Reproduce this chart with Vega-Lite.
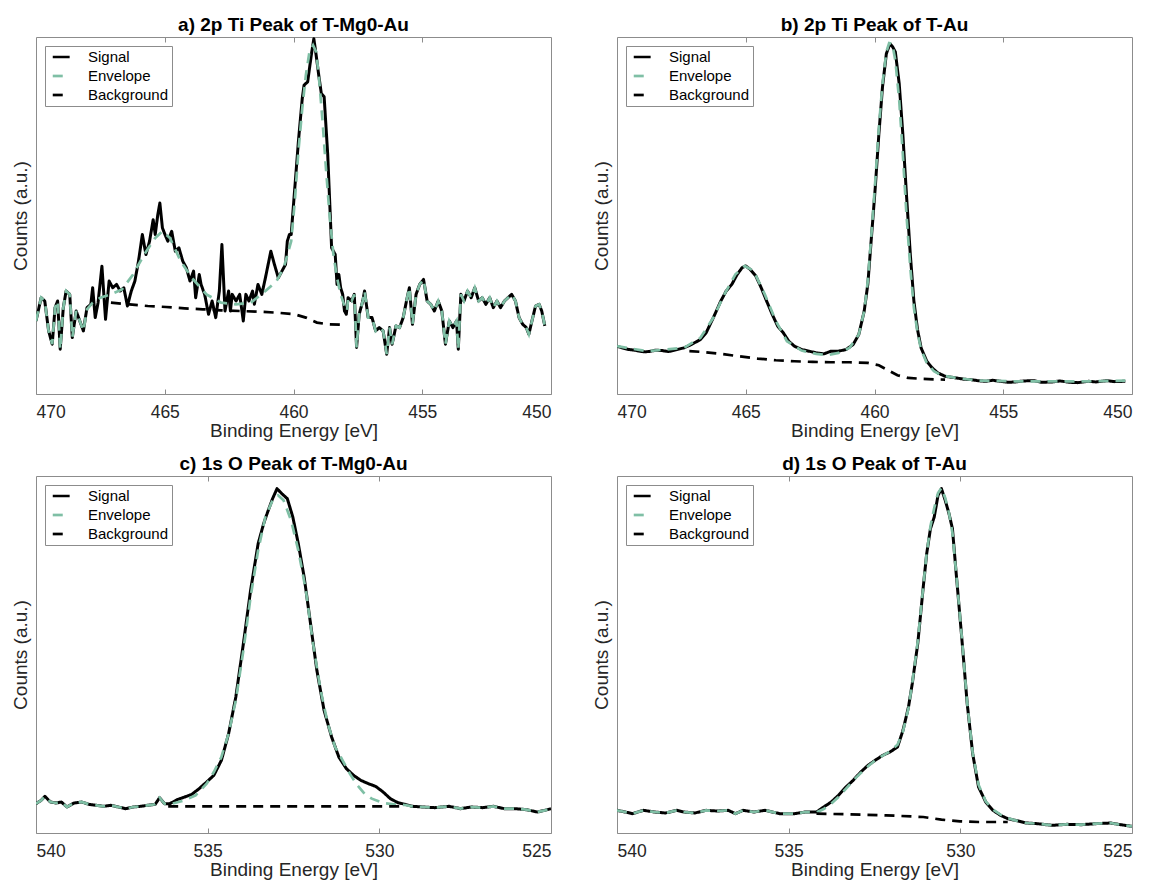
{
"$schema": "https://vega.github.io/schema/vega-lite/v6.json",
"padding": {"left": 10, "top": 15, "right": 3, "bottom": 3},
"background": "white",
"config": {
  "font": "Liberation Sans",
  "view": {"stroke": "#8c8c8c", "strokeWidth": 1},
  "axis": {"grid": false, "domain": false, "labelFont": "Liberation Sans", "labelFontSize": 17.5, "labelColor": "#262626", "titleFont": "Liberation Sans", "titleFontSize": 19, "titleFontWeight": "normal", "titleColor": "#262626", "tickColor": "#8c8c8c", "tickWidth": 1},
  "title": {"font": "Liberation Sans", "fontSize": 19, "fontWeight": "bold", "color": "#000000", "offset": 2}
},
"datasets": {
"a": [
{"s":"S","x":470,"y":220},{"s":"S","x":469.8,"y":290},{"s":"S","x":469.66,"y":280},{"s":"S","x":469.51,"y":190},{"s":"S","x":469.37,"y":150},{"s":"S","x":469.26,"y":260},{"s":"S","x":469.16,"y":280},{"s":"S","x":469.06,"y":135},{"s":"S","x":468.94,"y":260},{"s":"S","x":468.83,"y":310},{"s":"S","x":468.69,"y":300},{"s":"S","x":468.59,"y":170},{"s":"S","x":468.44,"y":250},{"s":"S","x":468.3,"y":220},{"s":"S","x":468.16,"y":190},{"s":"S","x":468.02,"y":260},{"s":"S","x":467.87,"y":270},{"s":"S","x":467.8,"y":320},{"s":"S","x":467.7,"y":230},{"s":"S","x":467.59,"y":275},{"s":"S","x":467.44,"y":385},{"s":"S","x":467.3,"y":225},{"s":"S","x":467.16,"y":340},{"s":"S","x":467.02,"y":320},{"s":"S","x":466.87,"y":330},{"s":"S","x":466.73,"y":310},{"s":"S","x":466.59,"y":320},{"s":"S","x":466.45,"y":265},{"s":"S","x":466.3,"y":310},{"s":"S","x":466.16,"y":340},{"s":"S","x":466.02,"y":400},{"s":"S","x":465.87,"y":480},{"s":"S","x":465.73,"y":420},{"s":"S","x":465.59,"y":460},{"s":"S","x":465.45,"y":525},{"s":"S","x":465.37,"y":480},{"s":"S","x":465.27,"y":540},{"s":"S","x":465.19,"y":575},{"s":"S","x":465.09,"y":500},{"s":"S","x":464.99,"y":480},{"s":"S","x":464.88,"y":460},{"s":"S","x":464.73,"y":490},{"s":"S","x":464.59,"y":430},{"s":"S","x":464.45,"y":440},{"s":"S","x":464.3,"y":400},{"s":"S","x":464.16,"y":380},{"s":"S","x":464.02,"y":340},{"s":"S","x":463.88,"y":370},{"s":"S","x":463.8,"y":290},{"s":"S","x":463.66,"y":360},{"s":"S","x":463.59,"y":330},{"s":"S","x":463.45,"y":300},{"s":"S","x":463.3,"y":240},{"s":"S","x":463.16,"y":280},{"s":"S","x":463.02,"y":230},{"s":"S","x":462.88,"y":310},{"s":"S","x":462.78,"y":450},{"s":"S","x":462.66,"y":250},{"s":"S","x":462.52,"y":310},{"s":"S","x":462.45,"y":250},{"s":"S","x":462.38,"y":300},{"s":"S","x":462.23,"y":280},{"s":"S","x":462.09,"y":300},{"s":"S","x":461.95,"y":220},{"s":"S","x":461.85,"y":300},{"s":"S","x":461.73,"y":280},{"s":"S","x":461.59,"y":310},{"s":"S","x":461.52,"y":270},{"s":"S","x":461.38,"y":330},{"s":"S","x":461.23,"y":300},{"s":"S","x":461.09,"y":350},{"s":"S","x":460.88,"y":430},{"s":"S","x":460.74,"y":390},{"s":"S","x":460.59,"y":350},{"s":"S","x":460.45,"y":370},{"s":"S","x":460.31,"y":390},{"s":"S","x":460.24,"y":460},{"s":"S","x":460.16,"y":480},{"s":"S","x":460.09,"y":480},{"s":"S","x":459.95,"y":620},{"s":"S","x":459.81,"y":760},{"s":"S","x":459.66,"y":890},{"s":"S","x":459.59,"y":930},{"s":"S","x":459.45,"y":940},{"s":"S","x":459.31,"y":1020},{"s":"S","x":459.21,"y":1070},{"s":"S","x":459.12,"y":1020},{"s":"S","x":459.02,"y":960},{"s":"S","x":458.92,"y":905},{"s":"S","x":458.81,"y":895},{"s":"S","x":458.67,"y":720},{"s":"S","x":458.52,"y":440},{"s":"S","x":458.38,"y":420},{"s":"S","x":458.31,"y":330},{"s":"S","x":458.24,"y":360},{"s":"S","x":458.17,"y":320},{"s":"S","x":458.09,"y":300},{"s":"S","x":458.02,"y":250},{"s":"S","x":457.95,"y":240},{"s":"S","x":457.88,"y":290},{"s":"S","x":457.74,"y":280},{"s":"S","x":457.64,"y":300},{"s":"S","x":457.55,"y":140},{"s":"S","x":457.45,"y":240},{"s":"S","x":457.31,"y":280},{"s":"S","x":457.24,"y":310},{"s":"S","x":457.1,"y":230},{"s":"S","x":456.95,"y":230},{"s":"S","x":456.81,"y":190},{"s":"S","x":456.67,"y":200},{"s":"S","x":456.52,"y":190},{"s":"S","x":456.38,"y":120},{"s":"S","x":456.27,"y":200},{"s":"S","x":456.17,"y":150},{"s":"S","x":456.02,"y":205},{"s":"S","x":455.88,"y":200},{"s":"S","x":455.74,"y":230},{"s":"S","x":455.6,"y":285},{"s":"S","x":455.5,"y":320},{"s":"S","x":455.38,"y":210},{"s":"S","x":455.24,"y":300},{"s":"S","x":455.1,"y":330},{"s":"S","x":454.95,"y":345},{"s":"S","x":454.81,"y":280},{"s":"S","x":454.67,"y":270},{"s":"S","x":454.53,"y":250},{"s":"S","x":454.38,"y":280},{"s":"S","x":454.24,"y":250},{"s":"S","x":454.1,"y":150},{"s":"S","x":453.95,"y":220},{"s":"S","x":453.81,"y":200},{"s":"S","x":453.67,"y":220},{"s":"S","x":453.6,"y":135},{"s":"S","x":453.5,"y":300},{"s":"S","x":453.38,"y":280},{"s":"S","x":453.24,"y":310},{"s":"S","x":453.1,"y":290},{"s":"S","x":452.96,"y":320},{"s":"S","x":452.81,"y":280},{"s":"S","x":452.67,"y":290},{"s":"S","x":452.53,"y":270},{"s":"S","x":452.38,"y":290},{"s":"S","x":452.24,"y":260},{"s":"S","x":452.1,"y":280},{"s":"S","x":451.96,"y":260},{"s":"S","x":451.81,"y":280},{"s":"S","x":451.67,"y":290},{"s":"S","x":451.53,"y":300},{"s":"S","x":451.38,"y":280},{"s":"S","x":451.24,"y":230},{"s":"S","x":451.1,"y":210},{"s":"S","x":450.96,"y":200},{"s":"S","x":450.86,"y":180},{"s":"S","x":450.74,"y":220},{"s":"S","x":450.6,"y":265},{"s":"S","x":450.46,"y":270},{"s":"S","x":450.36,"y":250},{"s":"S","x":450.24,"y":205},
{"s":"E","x":470,"y":220},{"s":"E","x":469.8,"y":290},{"s":"E","x":469.66,"y":280},{"s":"E","x":469.51,"y":190},{"s":"E","x":469.37,"y":150},{"s":"E","x":469.26,"y":260},{"s":"E","x":469.16,"y":280},{"s":"E","x":469.06,"y":135},{"s":"E","x":468.94,"y":260},{"s":"E","x":468.83,"y":310},{"s":"E","x":468.69,"y":300},{"s":"E","x":468.59,"y":170},{"s":"E","x":468.44,"y":250},{"s":"E","x":468.3,"y":220},{"s":"E","x":468.16,"y":190},{"s":"E","x":468.02,"y":255},{"s":"E","x":467.8,"y":275},{"s":"E","x":467.5,"y":290},{"s":"E","x":467.09,"y":300},{"s":"E","x":466.66,"y":315},{"s":"E","x":466.23,"y":360},{"s":"E","x":465.8,"y":420},{"s":"E","x":465.37,"y":470},{"s":"E","x":465.09,"y":490},{"s":"E","x":464.8,"y":470},{"s":"E","x":464.38,"y":400},{"s":"E","x":463.95,"y":350},{"s":"E","x":463.38,"y":300},{"s":"E","x":462.81,"y":275},{"s":"E","x":462.23,"y":270},{"s":"E","x":461.66,"y":275},{"s":"E","x":461.09,"y":310},{"s":"E","x":460.66,"y":340},{"s":"E","x":460.38,"y":380},{"s":"E","x":460.09,"y":460},{"s":"E","x":459.95,"y":580},{"s":"E","x":459.81,"y":730},{"s":"E","x":459.66,"y":860},{"s":"E","x":459.52,"y":960},{"s":"E","x":459.38,"y":1030},{"s":"E","x":459.24,"y":1050},{"s":"E","x":459.12,"y":1030},{"s":"E","x":459.02,"y":960},{"s":"E","x":458.88,"y":830},{"s":"E","x":458.74,"y":680},{"s":"E","x":458.59,"y":530},{"s":"E","x":458.45,"y":420},{"s":"E","x":458.31,"y":350},{"s":"E","x":458.17,"y":300},{"s":"E","x":458.02,"y":265},{"s":"E","x":457.92,"y":250},{"s":"E","x":457.88,"y":290},{"s":"E","x":457.74,"y":280},{"s":"E","x":457.64,"y":300},{"s":"E","x":457.55,"y":140},{"s":"E","x":457.45,"y":240},{"s":"E","x":457.31,"y":280},{"s":"E","x":457.24,"y":310},{"s":"E","x":457.1,"y":230},{"s":"E","x":456.95,"y":230},{"s":"E","x":456.81,"y":190},{"s":"E","x":456.67,"y":200},{"s":"E","x":456.52,"y":190},{"s":"E","x":456.38,"y":120},{"s":"E","x":456.27,"y":200},{"s":"E","x":456.17,"y":150},{"s":"E","x":456.02,"y":205},{"s":"E","x":455.88,"y":200},{"s":"E","x":455.74,"y":230},{"s":"E","x":455.6,"y":285},{"s":"E","x":455.5,"y":320},{"s":"E","x":455.38,"y":210},{"s":"E","x":455.24,"y":300},{"s":"E","x":455.1,"y":330},{"s":"E","x":454.95,"y":345},{"s":"E","x":454.81,"y":280},{"s":"E","x":454.67,"y":270},{"s":"E","x":454.53,"y":250},{"s":"E","x":454.38,"y":280},{"s":"E","x":454.24,"y":250},{"s":"E","x":454.1,"y":150},{"s":"E","x":453.95,"y":220},{"s":"E","x":453.81,"y":200},{"s":"E","x":453.67,"y":220},{"s":"E","x":453.6,"y":135},{"s":"E","x":453.5,"y":300},{"s":"E","x":453.38,"y":280},{"s":"E","x":453.24,"y":310},{"s":"E","x":453.1,"y":290},{"s":"E","x":452.96,"y":320},{"s":"E","x":452.81,"y":280},{"s":"E","x":452.67,"y":290},{"s":"E","x":452.53,"y":270},{"s":"E","x":452.38,"y":290},{"s":"E","x":452.24,"y":260},{"s":"E","x":452.1,"y":280},{"s":"E","x":451.96,"y":260},{"s":"E","x":451.81,"y":280},{"s":"E","x":451.67,"y":290},{"s":"E","x":451.53,"y":300},{"s":"E","x":451.38,"y":280},{"s":"E","x":451.24,"y":230},{"s":"E","x":451.1,"y":210},{"s":"E","x":450.96,"y":200},{"s":"E","x":450.86,"y":180},{"s":"E","x":450.74,"y":220},{"s":"E","x":450.6,"y":265},{"s":"E","x":450.46,"y":270},{"s":"E","x":450.36,"y":250},{"s":"E","x":450.24,"y":205},
{"s":"B","x":467.09,"y":275},{"s":"B","x":466.37,"y":270},{"s":"B","x":465.66,"y":265},{"s":"B","x":464.95,"y":262},{"s":"B","x":464.23,"y":258},{"s":"B","x":463.52,"y":255},{"s":"B","x":462.81,"y":252},{"s":"B","x":462.09,"y":250},{"s":"B","x":461.38,"y":248},{"s":"B","x":460.66,"y":245},{"s":"B","x":459.95,"y":240},{"s":"B","x":459.52,"y":230},{"s":"B","x":459.09,"y":215},{"s":"B","x":458.67,"y":210},{"s":"B","x":457.95,"y":208}
],
"b": [
{"s":"S","x":470,"y":143},{"s":"S","x":469.8,"y":138},{"s":"S","x":469.54,"y":133},{"s":"S","x":469.3,"y":131},{"s":"S","x":469.11,"y":128},{"s":"S","x":468.9,"y":126},{"s":"S","x":468.69,"y":128},{"s":"S","x":468.5,"y":131},{"s":"S","x":468.26,"y":130},{"s":"S","x":468.0,"y":127},{"s":"S","x":467.83,"y":130},{"s":"S","x":467.4,"y":138},{"s":"S","x":467.11,"y":148},{"s":"S","x":466.76,"y":163},{"s":"S","x":466.54,"y":183},{"s":"S","x":466.26,"y":228},{"s":"S","x":465.97,"y":278},{"s":"S","x":465.76,"y":308},{"s":"S","x":465.54,"y":328},{"s":"S","x":465.33,"y":358},{"s":"S","x":465.14,"y":378},{"s":"S","x":465,"y":383},{"s":"S","x":464.83,"y":373},{"s":"S","x":464.61,"y":353},{"s":"S","x":464.4,"y":318},{"s":"S","x":464.19,"y":278},{"s":"S","x":463.97,"y":238},{"s":"S","x":463.76,"y":203},{"s":"S","x":463.54,"y":183},{"s":"S","x":463.33,"y":158},{"s":"S","x":463.11,"y":143},{"s":"S","x":462.83,"y":133},{"s":"S","x":462.54,"y":128},{"s":"S","x":462.26,"y":123},{"s":"S","x":461.97,"y":120},{"s":"S","x":461.69,"y":128},{"s":"S","x":461.4,"y":128},{"s":"S","x":461.11,"y":133},{"s":"S","x":460.83,"y":148},{"s":"S","x":460.61,"y":178},{"s":"S","x":460.4,"y":248},{"s":"S","x":460.26,"y":328},{"s":"S","x":460.11,"y":478},{"s":"S","x":459.97,"y":618},{"s":"S","x":459.83,"y":778},{"s":"S","x":459.69,"y":918},{"s":"S","x":459.54,"y":1018},{"s":"S","x":459.4,"y":1048},{"s":"S","x":459.29,"y":1038},{"s":"S","x":459.19,"y":1023},{"s":"S","x":459.04,"y":928},{"s":"S","x":458.9,"y":778},{"s":"S","x":458.76,"y":598},{"s":"S","x":458.61,"y":418},{"s":"S","x":458.47,"y":278},{"s":"S","x":458.33,"y":193},{"s":"S","x":458.19,"y":138},{"s":"S","x":457.97,"y":98},{"s":"S","x":457.76,"y":78},{"s":"S","x":457.54,"y":63},{"s":"S","x":457.26,"y":53},{"s":"S","x":456.83,"y":48},{"s":"S","x":456.5,"y":44},{"s":"S","x":456.26,"y":43},{"s":"S","x":456,"y":40},{"s":"S","x":455.69,"y":38},{"s":"S","x":455.4,"y":41},{"s":"S","x":455.11,"y":38},{"s":"S","x":454.8,"y":35},{"s":"S","x":454.54,"y":36},{"s":"S","x":454.2,"y":39},{"s":"S","x":453.83,"y":40},{"s":"S","x":453.5,"y":35},{"s":"S","x":453.11,"y":36},{"s":"S","x":452.8,"y":39},{"s":"S","x":452.4,"y":35},{"s":"S","x":452.1,"y":34},{"s":"S","x":451.69,"y":38},{"s":"S","x":451.4,"y":36},{"s":"S","x":450.97,"y":40},{"s":"S","x":450.7,"y":37},{"s":"S","x":450.26,"y":38},
{"s":"E","x":470,"y":143},{"s":"E","x":468.83,"y":128},{"s":"E","x":467.4,"y":138},{"s":"E","x":466.76,"y":168},{"s":"E","x":466.26,"y":228},{"s":"E","x":465.83,"y":298},{"s":"E","x":465.4,"y":358},{"s":"E","x":465.04,"y":383},{"s":"E","x":464.69,"y":368},{"s":"E","x":464.26,"y":298},{"s":"E","x":463.83,"y":218},{"s":"E","x":463.4,"y":158},{"s":"E","x":462.83,"y":130},{"s":"E","x":462.26,"y":120},{"s":"E","x":461.83,"y":116},{"s":"E","x":461.4,"y":123},{"s":"E","x":460.97,"y":138},{"s":"E","x":460.61,"y":178},{"s":"E","x":460.4,"y":248},{"s":"E","x":460.26,"y":338},{"s":"E","x":460.11,"y":488},{"s":"E","x":459.97,"y":638},{"s":"E","x":459.83,"y":798},{"s":"E","x":459.69,"y":928},{"s":"E","x":459.54,"y":1023},{"s":"E","x":459.43,"y":1050},{"s":"E","x":459.31,"y":1048},{"s":"E","x":459.19,"y":998},{"s":"E","x":459.04,"y":878},{"s":"E","x":458.9,"y":718},{"s":"E","x":458.76,"y":538},{"s":"E","x":458.61,"y":378},{"s":"E","x":458.47,"y":258},{"s":"E","x":458.33,"y":183},{"s":"E","x":458.19,"y":133},{"s":"E","x":457.97,"y":93},{"s":"E","x":457.69,"y":68},{"s":"E","x":457.4,"y":56},{"s":"E","x":456.83,"y":48},{"s":"E","x":455.97,"y":40},{"s":"E","x":454.54,"y":38},{"s":"E","x":453.11,"y":38},{"s":"E","x":451.69,"y":38},{"s":"E","x":450.26,"y":40},
{"s":"B","x":467.19,"y":128},{"s":"B","x":466.69,"y":126},{"s":"B","x":465.97,"y":120},{"s":"B","x":465.26,"y":113},{"s":"B","x":464.54,"y":106},{"s":"B","x":463.83,"y":101},{"s":"B","x":463.11,"y":98},{"s":"B","x":462.4,"y":96},{"s":"B","x":461.69,"y":95},{"s":"B","x":460.97,"y":95},{"s":"B","x":460.26,"y":93},{"s":"B","x":459.83,"y":86},{"s":"B","x":459.4,"y":68},{"s":"B","x":459.11,"y":56},{"s":"B","x":458.69,"y":48},{"s":"B","x":458.11,"y":45},{"s":"B","x":457.26,"y":43}
],
"c": [
{"s":"S","x":540,"y":88},{"s":"S","x":539.85,"y":98},{"s":"S","x":539.74,"y":110},{"s":"S","x":539.58,"y":93},{"s":"S","x":539.42,"y":90},{"s":"S","x":539.26,"y":93},{"s":"S","x":539.1,"y":78},{"s":"S","x":538.89,"y":90},{"s":"S","x":538.67,"y":93},{"s":"S","x":538.46,"y":86},{"s":"S","x":538.24,"y":83},{"s":"S","x":538.03,"y":80},{"s":"S","x":537.82,"y":83},{"s":"S","x":537.6,"y":78},{"s":"S","x":537.39,"y":73},{"s":"S","x":537.17,"y":78},{"s":"S","x":536.96,"y":80},{"s":"S","x":536.75,"y":83},{"s":"S","x":536.53,"y":86},{"s":"S","x":536.4,"y":106},{"s":"S","x":536.26,"y":88},{"s":"S","x":536.1,"y":88},{"s":"S","x":535.89,"y":100},{"s":"S","x":535.67,"y":108},{"s":"S","x":535.46,"y":116},{"s":"S","x":535.25,"y":133},{"s":"S","x":535.03,"y":153},{"s":"S","x":534.82,"y":173},{"s":"S","x":534.6,"y":218},{"s":"S","x":534.39,"y":298},{"s":"S","x":534.18,"y":408},{"s":"S","x":533.96,"y":568},{"s":"S","x":533.75,"y":728},{"s":"S","x":533.53,"y":868},{"s":"S","x":533.37,"y":928},{"s":"S","x":533.27,"y":958},{"s":"S","x":533.11,"y":1003},{"s":"S","x":532.98,"y":1033},{"s":"S","x":532.84,"y":1018},{"s":"S","x":532.68,"y":1003},{"s":"S","x":532.52,"y":948},{"s":"S","x":532.36,"y":868},{"s":"S","x":532.19,"y":768},{"s":"S","x":532.03,"y":648},{"s":"S","x":531.82,"y":488},{"s":"S","x":531.61,"y":368},{"s":"S","x":531.39,"y":288},{"s":"S","x":531.18,"y":228},{"s":"S","x":530.96,"y":193},{"s":"S","x":530.75,"y":173},{"s":"S","x":530.54,"y":158},{"s":"S","x":530.32,"y":148},{"s":"S","x":530.11,"y":140},{"s":"S","x":529.89,"y":123},{"s":"S","x":529.68,"y":103},{"s":"S","x":529.46,"y":91},{"s":"S","x":529.25,"y":86},{"s":"S","x":529.04,"y":80},{"s":"S","x":528.72,"y":78},{"s":"S","x":528.39,"y":76},{"s":"S","x":527.97,"y":80},{"s":"S","x":527.64,"y":73},{"s":"S","x":527.32,"y":78},{"s":"S","x":527,"y":76},{"s":"S","x":526.68,"y":80},{"s":"S","x":526.36,"y":73},{"s":"S","x":526.04,"y":73},{"s":"S","x":525.72,"y":70},{"s":"S","x":525.4,"y":63},{"s":"S","x":525.18,"y":68},{"s":"S","x":525,"y":73},
{"s":"E","x":540,"y":88},{"s":"E","x":539.85,"y":98},{"s":"E","x":539.74,"y":110},{"s":"E","x":539.58,"y":93},{"s":"E","x":539.42,"y":90},{"s":"E","x":539.26,"y":93},{"s":"E","x":539.1,"y":78},{"s":"E","x":538.89,"y":90},{"s":"E","x":538.67,"y":93},{"s":"E","x":538.46,"y":86},{"s":"E","x":538.24,"y":83},{"s":"E","x":538.03,"y":80},{"s":"E","x":537.82,"y":83},{"s":"E","x":537.6,"y":78},{"s":"E","x":537.39,"y":73},{"s":"E","x":537.17,"y":78},{"s":"E","x":536.96,"y":80},{"s":"E","x":536.75,"y":83},{"s":"E","x":536.53,"y":86},{"s":"E","x":536.4,"y":106},{"s":"E","x":536.26,"y":88},{"s":"E","x":536.1,"y":86},{"s":"E","x":535.67,"y":98},{"s":"E","x":535.35,"y":113},{"s":"E","x":535.03,"y":148},{"s":"E","x":534.82,"y":183},{"s":"E","x":534.6,"y":228},{"s":"E","x":534.39,"y":298},{"s":"E","x":534.18,"y":398},{"s":"E","x":533.96,"y":548},{"s":"E","x":533.75,"y":708},{"s":"E","x":533.53,"y":848},{"s":"E","x":533.32,"y":948},{"s":"E","x":533.11,"y":998},{"s":"E","x":532.95,"y":1013},{"s":"E","x":532.79,"y":998},{"s":"E","x":532.57,"y":938},{"s":"E","x":532.36,"y":848},{"s":"E","x":532.14,"y":728},{"s":"E","x":531.93,"y":568},{"s":"E","x":531.71,"y":428},{"s":"E","x":531.5,"y":328},{"s":"E","x":531.29,"y":258},{"s":"E","x":531.07,"y":218},{"s":"E","x":530.86,"y":178},{"s":"E","x":530.64,"y":143},{"s":"E","x":530.43,"y":118},{"s":"E","x":530.22,"y":103},{"s":"E","x":529.89,"y":90},{"s":"E","x":529.57,"y":86},{"s":"E","x":529.25,"y":84},{"s":"E","x":529.04,"y":80},{"s":"E","x":528.72,"y":78},{"s":"E","x":528.39,"y":76},{"s":"E","x":527.97,"y":80},{"s":"E","x":527.64,"y":73},{"s":"E","x":527.32,"y":78},{"s":"E","x":527,"y":76},{"s":"E","x":526.68,"y":80},{"s":"E","x":526.36,"y":73},{"s":"E","x":526.04,"y":73},{"s":"E","x":525.72,"y":70},{"s":"E","x":525.4,"y":63},{"s":"E","x":525.18,"y":68},{"s":"E","x":525,"y":73},
{"s":"B","x":536.15,"y":80},{"s":"B","x":533,"y":80},{"s":"B","x":529.25,"y":80}
],
"d": [
{"s":"S","x":540,"y":68},{"s":"S","x":539.76,"y":63},{"s":"S","x":539.55,"y":58},{"s":"S","x":539.23,"y":68},{"s":"S","x":538.91,"y":63},{"s":"S","x":538.59,"y":60},{"s":"S","x":538.26,"y":68},{"s":"S","x":538.05,"y":63},{"s":"S","x":537.73,"y":60},{"s":"S","x":537.41,"y":68},{"s":"S","x":537.08,"y":66},{"s":"S","x":536.76,"y":68},{"s":"S","x":536.55,"y":58},{"s":"S","x":536.33,"y":68},{"s":"S","x":536.01,"y":63},{"s":"S","x":535.69,"y":68},{"s":"S","x":535.26,"y":58},{"s":"S","x":534.83,"y":58},{"s":"S","x":534.51,"y":63},{"s":"S","x":534.19,"y":63},{"s":"S","x":533.98,"y":78},{"s":"S","x":533.76,"y":93},{"s":"S","x":533.55,"y":113},{"s":"S","x":533.33,"y":138},{"s":"S","x":533.12,"y":158},{"s":"S","x":532.9,"y":183},{"s":"S","x":532.69,"y":203},{"s":"S","x":532.48,"y":218},{"s":"S","x":532.26,"y":233},{"s":"S","x":532.05,"y":243},{"s":"S","x":531.83,"y":258},{"s":"S","x":531.67,"y":308},{"s":"S","x":531.51,"y":378},{"s":"S","x":531.4,"y":448},{"s":"S","x":531.24,"y":568},{"s":"S","x":531.08,"y":738},{"s":"S","x":530.98,"y":838},{"s":"S","x":530.87,"y":913},{"s":"S","x":530.76,"y":948},{"s":"S","x":530.65,"y":1013},{"s":"S","x":530.55,"y":1033},{"s":"S","x":530.44,"y":998},{"s":"S","x":530.33,"y":958},{"s":"S","x":530.23,"y":913},{"s":"S","x":530.12,"y":778},{"s":"S","x":529.96,"y":588},{"s":"S","x":529.8,"y":388},{"s":"S","x":529.64,"y":238},{"s":"S","x":529.47,"y":138},{"s":"S","x":529.26,"y":93},{"s":"S","x":529.05,"y":68},{"s":"S","x":528.83,"y":53},{"s":"S","x":528.62,"y":43},{"s":"S","x":528.4,"y":38},{"s":"S","x":528.08,"y":30},{"s":"S","x":527.76,"y":28},{"s":"S","x":527.33,"y":23},{"s":"S","x":526.9,"y":26},{"s":"S","x":526.47,"y":25},{"s":"S","x":526.05,"y":28},{"s":"S","x":525.62,"y":30},{"s":"S","x":525.4,"y":26},{"s":"S","x":525,"y":20},
{"s":"E","x":540,"y":68},{"s":"E","x":539.76,"y":63},{"s":"E","x":539.55,"y":58},{"s":"E","x":539.23,"y":68},{"s":"E","x":538.91,"y":63},{"s":"E","x":538.59,"y":60},{"s":"E","x":538.26,"y":68},{"s":"E","x":538.05,"y":63},{"s":"E","x":537.73,"y":60},{"s":"E","x":537.41,"y":68},{"s":"E","x":537.08,"y":66},{"s":"E","x":536.76,"y":68},{"s":"E","x":536.55,"y":58},{"s":"E","x":536.33,"y":68},{"s":"E","x":536.01,"y":63},{"s":"E","x":535.69,"y":68},{"s":"E","x":535.26,"y":58},{"s":"E","x":534.83,"y":58},{"s":"E","x":534.51,"y":63},{"s":"E","x":534.19,"y":62},{"s":"E","x":533.98,"y":72},{"s":"E","x":533.76,"y":88},{"s":"E","x":533.55,"y":108},{"s":"E","x":533.33,"y":133},{"s":"E","x":533.12,"y":158},{"s":"E","x":532.9,"y":180},{"s":"E","x":532.69,"y":200},{"s":"E","x":532.48,"y":218},{"s":"E","x":532.26,"y":232},{"s":"E","x":532.05,"y":245},{"s":"E","x":531.83,"y":265},{"s":"E","x":531.67,"y":305},{"s":"E","x":531.51,"y":375},{"s":"E","x":531.4,"y":450},{"s":"E","x":531.24,"y":575},{"s":"E","x":531.08,"y":740},{"s":"E","x":530.98,"y":840},{"s":"E","x":530.87,"y":920},{"s":"E","x":530.76,"y":975},{"s":"E","x":530.65,"y":1020},{"s":"E","x":530.55,"y":1035},{"s":"E","x":530.44,"y":1005},{"s":"E","x":530.33,"y":960},{"s":"E","x":530.23,"y":900},{"s":"E","x":530.12,"y":780},{"s":"E","x":529.96,"y":590},{"s":"E","x":529.8,"y":390},{"s":"E","x":529.64,"y":240},{"s":"E","x":529.47,"y":145},{"s":"E","x":529.26,"y":95},{"s":"E","x":529.05,"y":70},{"s":"E","x":528.83,"y":55},{"s":"E","x":528.62,"y":45},{"s":"E","x":528.4,"y":38},{"s":"E","x":528.08,"y":30},{"s":"E","x":527.76,"y":28},{"s":"E","x":527.33,"y":23},{"s":"E","x":526.9,"y":26},{"s":"E","x":526.47,"y":25},{"s":"E","x":526.05,"y":28},{"s":"E","x":525.62,"y":30},{"s":"E","x":525.4,"y":26},{"s":"E","x":525,"y":20},
{"s":"B","x":534.19,"y":58},{"s":"B","x":533.23,"y":56},{"s":"B","x":532.16,"y":53},{"s":"B","x":531.08,"y":48},{"s":"B","x":530.55,"y":40},{"s":"B","x":530.01,"y":35},{"s":"B","x":529.47,"y":33},{"s":"B","x":528.62,"y":33}
]
},
"vconcat": [
{"hconcat": [
{"title": "a) 2p Ti Peak of T-Mg0-Au", "width": 515, "height": 357, "data": {"name": "a"}, "resolve": {"axis": {"x": "independent"}},
 "layer": [
  {"transform": [{"filter": "datum.s=='S'"}], "mark": {"type": "line", "strokeWidth": 3, "clip": true, "strokeJoin": "round"},
   "encoding": {
    "x": {"field": "x", "type": "quantitative", "scale": {"domain": [450, 470], "reverse": true, "nice": false, "zero": false}, "axis": {"values": [470, 465, 460, 455, 450], "title": "Binding Energy [eV]", "tickSize": -5, "labelPadding": 14, "titlePadding": 1}},
    "y": {"field": "y", "type": "quantitative", "scale": {"domain": [0, 1075], "nice": false, "zero": false}, "axis": {"title": "Counts (a.u.)", "labels": false, "ticks": false, "titlePadding": 6}},
    "color": {"field": "s", "type": "nominal", "scale": {"domain": ["S", "E", "B"], "range": ["#000000", "#7fbfa5", "#000000"]}, "legend": {"title": null, "orient": "top-left", "offset": 9, "padding": 3, "rowPadding": 3, "strokeColor": "#8c8c8c", "fillColor": "#ffffff", "symbolType": "M-0.5,0H2.1", "symbolSize": 169, "symbolStrokeWidth": 2.7, "labelOffset": 24, "labelFontSize": 15, "labelColor": "#000000", "labelFont": "Liberation Sans", "labelExpr": "datum.label=='S'?'Signal':datum.label=='E'?'Envelope':'Background'"}},
    "strokeDash": {"field": "s", "type": "nominal", "scale": {"domain": ["S", "E", "B"], "range": [[1, 0], [10, 7], [10, 7]]}, "legend": {"title": null, "orient": "top-left", "offset": 9, "padding": 3, "rowPadding": 3, "strokeColor": "#8c8c8c", "fillColor": "#ffffff", "symbolType": "M-0.5,0H2.1", "symbolSize": 169, "symbolStrokeWidth": 2.7, "labelOffset": 24, "labelFontSize": 15, "labelColor": "#000000", "labelFont": "Liberation Sans", "labelExpr": "datum.label=='S'?'Signal':datum.label=='E'?'Envelope':'Background'"}}
   }},
  {"transform": [{"filter": "datum.s=='E'"}], "mark": {"type": "line", "strokeWidth": 2.7, "clip": true},
   "encoding": {
    "x": {"field": "x", "type": "quantitative", "scale": {"domain": [450, 470], "reverse": true, "nice": false, "zero": false}, "axis": null},
    "y": {"field": "y", "type": "quantitative", "scale": {"domain": [0, 1075], "nice": false, "zero": false}, "axis": {"title": "Counts (a.u.)", "labels": false, "ticks": false, "titlePadding": 6}},
    "color": {"field": "s", "type": "nominal"},
    "strokeDash": {"field": "s", "type": "nominal"}
   }},
  {"transform": [{"filter": "datum.s=='B'"}], "mark": {"type": "line", "strokeWidth": 2.7, "clip": true},
   "encoding": {
    "x": {"field": "x", "type": "quantitative", "scale": {"domain": [450, 470], "reverse": true, "nice": false, "zero": false}, "axis": {"orient": "top", "values": [465, 460, 455], "labels": false, "title": null, "tickSize": -5}},
    "y": {"field": "y", "type": "quantitative", "scale": {"domain": [0, 1075], "nice": false, "zero": false}, "axis": {"title": "Counts (a.u.)", "labels": false, "ticks": false, "titlePadding": 6}},
    "color": {"field": "s", "type": "nominal"},
    "strokeDash": {"field": "s", "type": "nominal"}
   }}
 ]},
{"title": "b) 2p Ti Peak of T-Au", "width": 515, "height": 357, "data": {"name": "b"}, "resolve": {"axis": {"x": "independent"}},
 "layer": [
  {"transform": [{"filter": "datum.s=='S'"}], "mark": {"type": "line", "strokeWidth": 3, "clip": true, "strokeJoin": "round"},
   "encoding": {
    "x": {"field": "x", "type": "quantitative", "scale": {"domain": [450, 470], "reverse": true, "nice": false, "zero": false}, "axis": {"values": [470, 465, 460, 455, 450], "title": "Binding Energy [eV]", "tickSize": -5, "labelPadding": 14, "titlePadding": 1}},
    "y": {"field": "y", "type": "quantitative", "scale": {"domain": [0, 1068], "nice": false, "zero": false}, "axis": {"title": "Counts (a.u.)", "labels": false, "ticks": false, "titlePadding": 6}},
    "color": {"field": "s", "type": "nominal", "scale": {"domain": ["S", "E", "B"], "range": ["#000000", "#7fbfa5", "#000000"]}, "legend": {"title": null, "orient": "top-left", "offset": 9, "padding": 3, "rowPadding": 3, "strokeColor": "#8c8c8c", "fillColor": "#ffffff", "symbolType": "M-0.5,0H2.1", "symbolSize": 169, "symbolStrokeWidth": 2.7, "labelOffset": 24, "labelFontSize": 15, "labelColor": "#000000", "labelFont": "Liberation Sans", "labelExpr": "datum.label=='S'?'Signal':datum.label=='E'?'Envelope':'Background'"}},
    "strokeDash": {"field": "s", "type": "nominal", "scale": {"domain": ["S", "E", "B"], "range": [[1, 0], [10, 7], [10, 7]]}, "legend": {"title": null, "orient": "top-left", "offset": 9, "padding": 3, "rowPadding": 3, "strokeColor": "#8c8c8c", "fillColor": "#ffffff", "symbolType": "M-0.5,0H2.1", "symbolSize": 169, "symbolStrokeWidth": 2.7, "labelOffset": 24, "labelFontSize": 15, "labelColor": "#000000", "labelFont": "Liberation Sans", "labelExpr": "datum.label=='S'?'Signal':datum.label=='E'?'Envelope':'Background'"}}
   }},
  {"transform": [{"filter": "datum.s=='E'"}], "mark": {"type": "line", "strokeWidth": 2.7, "clip": true},
   "encoding": {
    "x": {"field": "x", "type": "quantitative", "scale": {"domain": [450, 470], "reverse": true, "nice": false, "zero": false}, "axis": null},
    "y": {"field": "y", "type": "quantitative", "scale": {"domain": [0, 1068], "nice": false, "zero": false}, "axis": {"title": "Counts (a.u.)", "labels": false, "ticks": false, "titlePadding": 6}},
    "color": {"field": "s", "type": "nominal"},
    "strokeDash": {"field": "s", "type": "nominal"}
   }},
  {"transform": [{"filter": "datum.s=='B'"}], "mark": {"type": "line", "strokeWidth": 2.7, "clip": true},
   "encoding": {
    "x": {"field": "x", "type": "quantitative", "scale": {"domain": [450, 470], "reverse": true, "nice": false, "zero": false}, "axis": {"orient": "top", "values": [465, 460, 455], "labels": false, "title": null, "tickSize": -5}},
    "y": {"field": "y", "type": "quantitative", "scale": {"domain": [0, 1068], "nice": false, "zero": false}, "axis": {"title": "Counts (a.u.)", "labels": false, "ticks": false, "titlePadding": 6}},
    "color": {"field": "s", "type": "nominal"},
    "strokeDash": {"field": "s", "type": "nominal"}
   }}
 ]}
], "spacing": 39, "resolve": {"scale": {"color": "independent", "strokeDash": "independent"}}},
{"hconcat": [
{"title": "c) 1s O Peak of T-Mg0-Au", "width": 515, "height": 357, "data": {"name": "c"}, "resolve": {"axis": {"x": "independent"}},
 "layer": [
  {"transform": [{"filter": "datum.s=='S'"}], "mark": {"type": "line", "strokeWidth": 3, "clip": true, "strokeJoin": "round"},
   "encoding": {
    "x": {"field": "x", "type": "quantitative", "scale": {"domain": [525, 540], "reverse": true, "nice": false, "zero": false}, "axis": {"values": [540, 535, 530, 525], "title": "Binding Energy [eV]", "tickSize": -5, "labelPadding": 14, "titlePadding": 1}},
    "y": {"field": "y", "type": "quantitative", "scale": {"domain": [0, 1071], "nice": false, "zero": false}, "axis": {"title": "Counts (a.u.)", "labels": false, "ticks": false, "titlePadding": 6}},
    "color": {"field": "s", "type": "nominal", "scale": {"domain": ["S", "E", "B"], "range": ["#000000", "#7fbfa5", "#000000"]}, "legend": {"title": null, "orient": "top-left", "offset": 9, "padding": 3, "rowPadding": 3, "strokeColor": "#8c8c8c", "fillColor": "#ffffff", "symbolType": "M-0.5,0H2.1", "symbolSize": 169, "symbolStrokeWidth": 2.7, "labelOffset": 24, "labelFontSize": 15, "labelColor": "#000000", "labelFont": "Liberation Sans", "labelExpr": "datum.label=='S'?'Signal':datum.label=='E'?'Envelope':'Background'"}},
    "strokeDash": {"field": "s", "type": "nominal", "scale": {"domain": ["S", "E", "B"], "range": [[1, 0], [10, 7], [10, 7]]}, "legend": {"title": null, "orient": "top-left", "offset": 9, "padding": 3, "rowPadding": 3, "strokeColor": "#8c8c8c", "fillColor": "#ffffff", "symbolType": "M-0.5,0H2.1", "symbolSize": 169, "symbolStrokeWidth": 2.7, "labelOffset": 24, "labelFontSize": 15, "labelColor": "#000000", "labelFont": "Liberation Sans", "labelExpr": "datum.label=='S'?'Signal':datum.label=='E'?'Envelope':'Background'"}}
   }},
  {"transform": [{"filter": "datum.s=='E'"}], "mark": {"type": "line", "strokeWidth": 2.7, "clip": true},
   "encoding": {
    "x": {"field": "x", "type": "quantitative", "scale": {"domain": [525, 540], "reverse": true, "nice": false, "zero": false}, "axis": null},
    "y": {"field": "y", "type": "quantitative", "scale": {"domain": [0, 1071], "nice": false, "zero": false}, "axis": {"title": "Counts (a.u.)", "labels": false, "ticks": false, "titlePadding": 6}},
    "color": {"field": "s", "type": "nominal"},
    "strokeDash": {"field": "s", "type": "nominal"}
   }},
  {"transform": [{"filter": "datum.s=='B'"}], "mark": {"type": "line", "strokeWidth": 2.7, "clip": true},
   "encoding": {
    "x": {"field": "x", "type": "quantitative", "scale": {"domain": [525, 540], "reverse": true, "nice": false, "zero": false}, "axis": {"orient": "top", "values": [535, 530], "labels": false, "title": null, "tickSize": -5}},
    "y": {"field": "y", "type": "quantitative", "scale": {"domain": [0, 1071], "nice": false, "zero": false}, "axis": {"title": "Counts (a.u.)", "labels": false, "ticks": false, "titlePadding": 6}},
    "color": {"field": "s", "type": "nominal"},
    "strokeDash": {"field": "s", "type": "nominal"}
   }}
 ]},
{"title": "d) 1s O Peak of T-Au", "width": 515, "height": 357, "data": {"name": "d"}, "resolve": {"axis": {"x": "independent"}},
 "layer": [
  {"transform": [{"filter": "datum.s=='S'"}], "mark": {"type": "line", "strokeWidth": 3, "clip": true, "strokeJoin": "round"},
   "encoding": {
    "x": {"field": "x", "type": "quantitative", "scale": {"domain": [525, 540], "reverse": true, "nice": false, "zero": false}, "axis": {"values": [540, 535, 530, 525], "title": "Binding Energy [eV]", "tickSize": -5, "labelPadding": 14, "titlePadding": 1}},
    "y": {"field": "y", "type": "quantitative", "scale": {"domain": [0, 1071], "nice": false, "zero": false}, "axis": {"title": "Counts (a.u.)", "labels": false, "ticks": false, "titlePadding": 6}},
    "color": {"field": "s", "type": "nominal", "scale": {"domain": ["S", "E", "B"], "range": ["#000000", "#7fbfa5", "#000000"]}, "legend": {"title": null, "orient": "top-left", "offset": 9, "padding": 3, "rowPadding": 3, "strokeColor": "#8c8c8c", "fillColor": "#ffffff", "symbolType": "M-0.5,0H2.1", "symbolSize": 169, "symbolStrokeWidth": 2.7, "labelOffset": 24, "labelFontSize": 15, "labelColor": "#000000", "labelFont": "Liberation Sans", "labelExpr": "datum.label=='S'?'Signal':datum.label=='E'?'Envelope':'Background'"}},
    "strokeDash": {"field": "s", "type": "nominal", "scale": {"domain": ["S", "E", "B"], "range": [[1, 0], [10, 7], [10, 7]]}, "legend": {"title": null, "orient": "top-left", "offset": 9, "padding": 3, "rowPadding": 3, "strokeColor": "#8c8c8c", "fillColor": "#ffffff", "symbolType": "M-0.5,0H2.1", "symbolSize": 169, "symbolStrokeWidth": 2.7, "labelOffset": 24, "labelFontSize": 15, "labelColor": "#000000", "labelFont": "Liberation Sans", "labelExpr": "datum.label=='S'?'Signal':datum.label=='E'?'Envelope':'Background'"}}
   }},
  {"transform": [{"filter": "datum.s=='E'"}], "mark": {"type": "line", "strokeWidth": 2.7, "clip": true},
   "encoding": {
    "x": {"field": "x", "type": "quantitative", "scale": {"domain": [525, 540], "reverse": true, "nice": false, "zero": false}, "axis": null},
    "y": {"field": "y", "type": "quantitative", "scale": {"domain": [0, 1071], "nice": false, "zero": false}, "axis": {"title": "Counts (a.u.)", "labels": false, "ticks": false, "titlePadding": 6}},
    "color": {"field": "s", "type": "nominal"},
    "strokeDash": {"field": "s", "type": "nominal"}
   }},
  {"transform": [{"filter": "datum.s=='B'"}], "mark": {"type": "line", "strokeWidth": 2.7, "clip": true},
   "encoding": {
    "x": {"field": "x", "type": "quantitative", "scale": {"domain": [525, 540], "reverse": true, "nice": false, "zero": false}, "axis": {"orient": "top", "values": [535, 530], "labels": false, "title": null, "tickSize": -5}},
    "y": {"field": "y", "type": "quantitative", "scale": {"domain": [0, 1071], "nice": false, "zero": false}, "axis": {"title": "Counts (a.u.)", "labels": false, "ticks": false, "titlePadding": 6}},
    "color": {"field": "s", "type": "nominal"},
    "strokeDash": {"field": "s", "type": "nominal"}
   }}
 ]}
], "spacing": 39, "resolve": {"scale": {"color": "independent", "strokeDash": "independent"}}}
],
"spacing": 13,
"resolve": {"scale": {"color": "independent", "strokeDash": "independent"}}
}
